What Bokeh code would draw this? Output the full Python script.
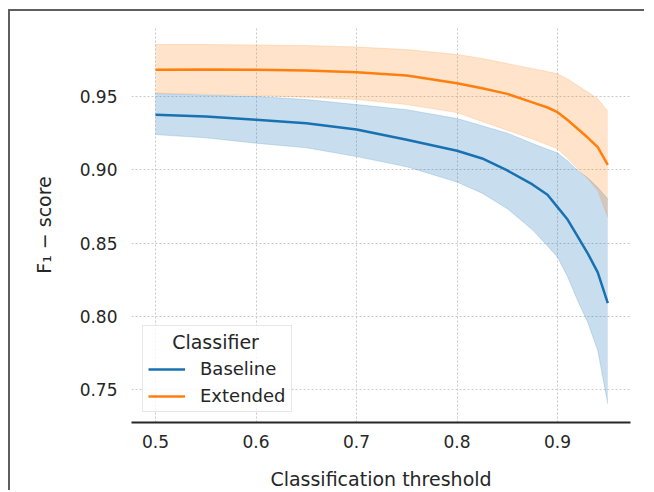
from bokeh.plotting import figure
from bokeh.models import Range1d, FixedTicker, Legend, LegendItem
from bokeh.embed import file_html
from bokeh.resources import INLINE

# ---- data ----
thresholds = [0.50, 0.55, 0.60, 0.65, 0.70, 0.75, 0.80, 0.825, 0.85, 0.875, 0.89, 0.90, 0.91, 0.92, 0.93, 0.94, 0.95]

baseline_mean = [0.9375, 0.9363, 0.9341, 0.9318, 0.9275, 0.9205, 0.9130, 0.9077, 0.8995, 0.8900, 0.8830, 0.8745, 0.8660, 0.8545, 0.8430, 0.8300, 0.8090]
baseline_upper = [0.9520, 0.9510, 0.9500, 0.9480, 0.9445, 0.9410, 0.9350, 0.9300, 0.9250, 0.9180, 0.9140, 0.9115, 0.9060, 0.8995, 0.8945, 0.8880, 0.8800]
baseline_lower = [0.9240, 0.9218, 0.9181, 0.9150, 0.9090, 0.9020, 0.8916, 0.8840, 0.8734, 0.8590, 0.8480, 0.8403, 0.8270, 0.8107, 0.7960, 0.7766, 0.7402]

extended_mean = [0.9682, 0.9684, 0.9682, 0.9678, 0.9665, 0.9643, 0.9591, 0.9557, 0.9518, 0.9460, 0.9425, 0.9393, 0.9340, 0.9280, 0.9220, 0.9154, 0.9034]
extended_upper = [0.9855, 0.9855, 0.9852, 0.9848, 0.9838, 0.9820, 0.9787, 0.9760, 0.9725, 0.9690, 0.9670, 0.9655, 0.9620, 0.9575, 0.9530, 0.9484, 0.9400]
extended_lower = [0.9523, 0.9515, 0.9507, 0.9495, 0.9480, 0.9445, 0.9390, 0.9330, 0.9270, 0.9210, 0.9170, 0.9143, 0.9080, 0.9007, 0.8940, 0.8858, 0.8676]

x_ticks = [0.5, 0.6, 0.7, 0.8, 0.9]
x_tick_labels = ["0.5", "0.6", "0.7", "0.8", "0.9"]
y_ticks = [0.75, 0.80, 0.85, 0.90, 0.95]
y_tick_labels = ["0.75", "0.80", "0.85", "0.90", "0.95"]

series_names = ["Baseline", "Extended"]
legend_title = "Classifier"
x_label = "Classification threshold"
y_label = "F\u2081 \u2212 score"

BLUE = "#1872b2"
ORANGE = "#ff7f0e"
FONT = "DejaVu Sans"
TXT = "#262626"

p = figure(width=636, height=481, output_backend="svg", toolbar_location=None,
           x_range=Range1d(0.4761, 0.9726), y_range=Range1d(0.7275, 0.9971),
           min_border_left=121, min_border_right=16, min_border_top=16, min_border_bottom=70)
p.styles = {"margin-top": "9px", "margin-left": "8px",
            "border-top": "2px solid #5f5f5f", "border-left": "2px solid #5f5f5f"}
p.outline_line_color = None
p.background_fill_color = "white"
p.border_fill_color = "white"

# grid
for g in (p.xgrid, p.ygrid):
    g.grid_line_color = "#c8c8c8"
    g.grid_line_dash = "2 2"
    g.grid_line_width = 1

# bands
p.varea(x=thresholds, y1=baseline_lower, y2=baseline_upper, fill_color=BLUE, fill_alpha=0.24)
p.line(thresholds, baseline_upper, line_color=BLUE, line_alpha=0.18, line_width=1)
p.line(thresholds, baseline_lower, line_color=BLUE, line_alpha=0.18, line_width=1)
p.varea(x=thresholds, y1=extended_lower, y2=extended_upper, fill_color=ORANGE, fill_alpha=0.22)
p.line(thresholds, extended_upper, line_color=ORANGE, line_alpha=0.18, line_width=1)
p.line(thresholds, extended_lower, line_color=ORANGE, line_alpha=0.18, line_width=1)

# mean lines
r_base = p.line(thresholds, baseline_mean, line_color=BLUE, line_width=2.5)
r_ext = p.line(thresholds, extended_mean, line_color=ORANGE, line_width=2.5)

# axes
p.xaxis.ticker = FixedTicker(ticks=x_ticks)
p.xaxis.major_label_overrides = dict(zip(x_ticks, x_tick_labels))
p.yaxis.ticker = FixedTicker(ticks=y_ticks)
p.yaxis.major_label_overrides = dict(zip(y_ticks, y_tick_labels))
for ax in (p.xaxis[0], p.yaxis[0]):
    ax.minor_tick_line_color = None
    ax.major_tick_line_color = None
    ax.major_tick_out = 0
    ax.major_tick_in = 0
    ax.minor_tick_out = 0
    ax.minor_tick_in = 0
    ax.major_label_text_font = FONT
    ax.major_label_text_font_size = "17px"
    ax.major_label_text_color = TXT
    ax.axis_label_text_font = FONT
    ax.axis_label_text_font_size = "19px"
    ax.axis_label_text_font_style = "normal"
    ax.axis_label_text_color = TXT
    ax.major_label_text_line_height = 1.0
    ax.axis_label_text_line_height = 1.0
p.yaxis.axis_line_color = None
p.xaxis.axis_line_color = TXT
p.xaxis.axis_line_width = 2
p.xaxis.major_label_standoff = 12
p.yaxis.major_label_standoff = 14
p.xaxis.axis_label = x_label
p.yaxis.axis_label = y_label
p.xaxis.axis_label_standoff = 17
p.yaxis.axis_label_standoff = 22

legend = Legend(items=[LegendItem(label=series_names[0], renderers=[r_base]),
                       LegendItem(label=series_names[1], renderers=[r_ext])],
                location=(11, 10))
legend.title = "\u00a0\u00a0\u00a0\u00a0" + legend_title
legend.title_text_font = FONT
legend.title_text_font_size = "19px"
legend.title_text_font_style = "normal"
legend.title_text_color = TXT
legend.title_standoff = 5
legend.label_text_font = FONT
legend.label_text_font_size = "18px"
legend.label_text_color = TXT
legend.glyph_width = 37
legend.label_standoff = 15
legend.spacing = 6
legend.padding = 5
legend.margin = 0
legend.border_line_color = "#d0d0d0"
legend.border_line_width = 1
legend.background_fill_color = "white"
legend.background_fill_alpha = 0.8
p.add_layout(legend, "center")

open("out.html", "w").write(file_html(p, INLINE))
